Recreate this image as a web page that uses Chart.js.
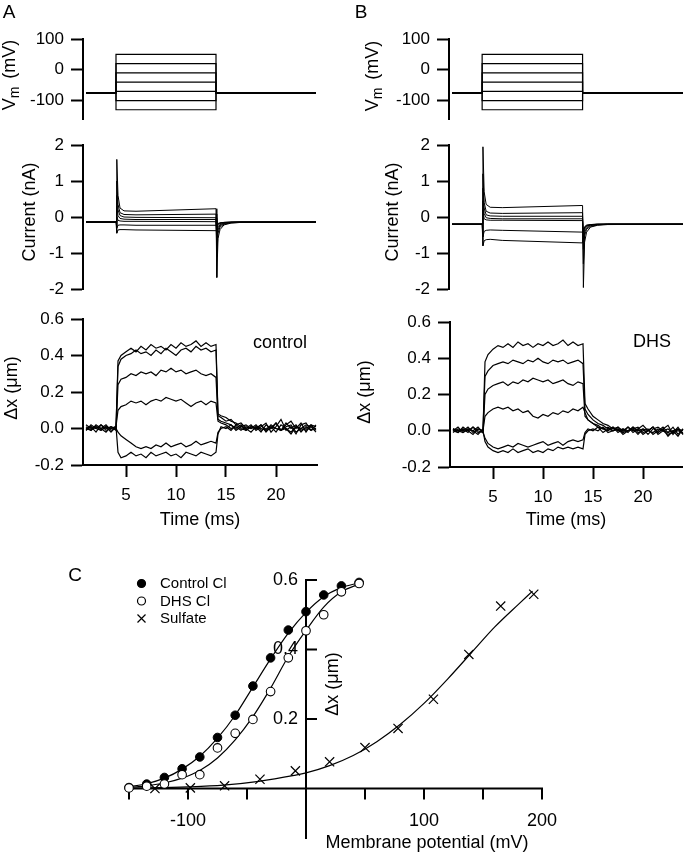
<!DOCTYPE html>
<html>
<head>
<meta charset="utf-8">
<title>Voltage-evoked currents and displacements</title>
<script src="https://cdn.jsdelivr.net/npm/chart.js@4.4.1/dist/chart.umd.min.js"></script>
<style>
  html, body { margin: 0; padding: 0; background: #fff; }
  body { width: 684px; height: 853px; position: relative; overflow: hidden; }
  canvas { position: absolute; }
</style>
</head>
<body>
<canvas id="vmA" width="342" height="137" style="left:0;top:0"></canvas>
<canvas id="curA" width="342" height="180" style="left:0;top:127px"></canvas>
<canvas id="dxA" width="342" height="240" style="left:0;top:300px"></canvas>
<canvas id="vmB" width="342" height="137" style="left:342px;top:0"></canvas>
<canvas id="curB" width="342" height="180" style="left:342px;top:127px"></canvas>
<canvas id="dxB" width="342" height="240" style="left:342px;top:300px"></canvas>
<canvas id="panelC" width="624" height="293" style="left:60px;top:560px"></canvas>
<script>
const FONT = "'Liberation Sans', Arial, Helvetica, sans-serif";

// ---- command voltage (A and B top) ----
const vmTime = [1, 4, 4, 14, 14, 24];
const vmHold = -75;
const vmLevels = [50, 20, -10, -40, -70, -100, -130];
const vmTicks = [-100, 0, 100];

// ---- membrane current (nA) ----
const curTime = [1, 4, 4.08, 4.2, 4.4, 4.8, 6, 14, 14.08, 14.2, 14.4, 14.8, 15.5, 16.5, 24];
const curTicks = [-2, -1, 0, 1, 2];
const curA1 = [-0.14, -0.14, 1.6, 0.6, 0.25, 0.17, 0.16, 0.23, -1.68, -0.6, -0.35, -0.22, -0.17, -0.15, -0.14];
const curA2 = [-0.14, -0.14, 1.0, 0.35, 0.12, 0.07, 0.06, 0.08, -1.1, -0.45, -0.28, -0.2, -0.16, -0.15, -0.14];
const curA3 = [-0.14, -0.14, 0.6, 0.2, 0.04, 0.0, -0.01, -0.02, -0.8, -0.36, -0.24, -0.18, -0.15, -0.14, -0.14];
const curA4 = [-0.14, -0.14, 0.3, 0.04, -0.04, -0.06, -0.07, -0.07, -0.55, -0.3, -0.21, -0.17, -0.15, -0.14, -0.14];
const curA5 = [-0.14, -0.14, 0.0, -0.09, -0.11, -0.12, -0.12, -0.13, -0.35, -0.24, -0.18, -0.16, -0.15, -0.14, -0.14];
const curA6 = [-0.14, -0.14, -0.3, -0.23, -0.22, -0.22, -0.23, -0.23, -0.28, -0.2, -0.17, -0.15, -0.14, -0.14, -0.14];
const curA7 = [-0.14, -0.14, -0.45, -0.36, -0.35, -0.35, -0.36, -0.38, -0.22, -0.18, -0.16, -0.15, -0.14, -0.14, -0.14];
const curB1 = [-0.2, -0.2, 1.95, 0.7, 0.35, 0.27, 0.26, 0.32, -1.96, -0.7, -0.42, -0.28, -0.23, -0.21, -0.2];
const curB2 = [-0.2, -0.2, 1.2, 0.4, 0.16, 0.11, 0.1, 0.12, -1.3, -0.52, -0.34, -0.26, -0.22, -0.2, -0.2];
const curB3 = [-0.2, -0.2, 0.8, 0.25, 0.06, 0.03, 0.02, 0.02, -0.9, -0.42, -0.3, -0.24, -0.21, -0.2, -0.2];
const curB4 = [-0.2, -0.2, 0.45, 0.1, -0.02, -0.04, -0.05, -0.05, -0.62, -0.34, -0.26, -0.22, -0.21, -0.2, -0.2];
const curB5 = [-0.2, -0.2, 0.2, -0.05, -0.08, -0.09, -0.09, -0.1, -0.42, -0.28, -0.23, -0.21, -0.2, -0.2, -0.2];
const curB6 = [-0.2, -0.2, -0.55, -0.4, -0.37, -0.36, -0.37, -0.42, -0.34, -0.27, -0.23, -0.21, -0.2, -0.2, -0.2];
const curB7 = [-0.2, -0.2, -0.8, -0.66, -0.63, -0.62, -0.65, -0.72, -0.38, -0.3, -0.25, -0.22, -0.2, -0.2, -0.2];

// ---- displacement (um) ----
const dxTime = [1, 1.5, 2, 2.5, 3, 3.5, 4, 4.2, 4.5, 5, 5.5, 6, 6.5, 7, 7.5, 8, 8.5, 9, 9.5, 10, 10.5, 11, 11.5, 12, 12.5, 13, 13.5, 14,
  14.2, 14.5, 15, 15.5, 16, 16.5, 17, 17.5, 18, 18.5, 19, 19.5, 20, 20.5, 21, 21.5, 22, 22.5, 23, 23.5, 24];
const dxTicks = [-0.2, 0, 0.2, 0.4, 0.6];
const timeTicks = [5, 10, 15, 20];

const dxA1 = [0.01, -0.01, 0.02, 0.0, -0.02, 0.01, 0.0,
  0.37, 0.40, 0.42, 0.44, 0.42, 0.45, 0.43, 0.46, 0.44, 0.45, 0.43, 0.46, 0.44, 0.47, 0.45, 0.46, 0.48, 0.45, 0.47, 0.45, 0.46,
  0.08, 0.07, 0.06, 0.04, 0.03, 0.01, 0.02, 0.0, 0.01, -0.02, 0.02, 0.0, 0.03, -0.01, 0.02, 0.04, 0.0, 0.03, -0.02, 0.02, 0.01];
const dxA2 = [-0.01, 0.02, 0.0, -0.01, 0.01, -0.02, 0.01,
  0.34, 0.38, 0.40, 0.41, 0.43, 0.41, 0.42, 0.40, 0.43, 0.41, 0.44, 0.42, 0.40, 0.43, 0.44, 0.42, 0.45, 0.43, 0.44, 0.42, 0.43,
  0.07, 0.06, 0.04, 0.05, 0.02, 0.03, 0.0, 0.02, -0.01, 0.01, 0.03, -0.02, 0.01, 0.05, -0.01, 0.01, -0.03, 0.02, 0.03, -0.01, 0.0];
const dxA3 = [0.0, 0.01, -0.02, 0.02, 0.0, 0.01, -0.01,
  0.24, 0.27, 0.28, 0.30, 0.29, 0.31, 0.30, 0.31, 0.29, 0.32, 0.31, 0.33, 0.31, 0.32, 0.30, 0.31, 0.32, 0.30, 0.29, 0.30, 0.28,
  0.05, 0.04, 0.03, 0.02, 0.0, 0.02, -0.01, 0.01, 0.0, 0.02, -0.02, 0.01, 0.0, -0.01, 0.03, 0.0, 0.02, -0.02, 0.01, -0.01, 0.02];
const dxA4 = [0.02, 0.0, 0.01, -0.01, 0.01, 0.0, 0.01,
  0.10, 0.12, 0.13, 0.15, 0.14, 0.15, 0.13, 0.15, 0.16, 0.15, 0.17, 0.16, 0.15, 0.16, 0.14, 0.12, 0.14, 0.15, 0.13, 0.15, 0.14,
  0.04, 0.03, 0.02, 0.0, 0.01, -0.01, 0.01, 0.0, 0.02, -0.01, 0.0, 0.01, -0.02, 0.02, 0.0, -0.03, 0.01, 0.0, 0.02, 0.01, -0.02];
const dxA5 = [0.0, -0.01, 0.01, 0.0, 0.02, -0.01, 0.0,
  -0.02, -0.04, -0.06, -0.08, -0.10, -0.11, -0.10, -0.11, -0.09, -0.10, -0.08, -0.10, -0.09, -0.08, -0.10, -0.09, -0.07, -0.09, -0.08, -0.07, -0.08,
  -0.02, 0.0, 0.01, -0.01, 0.02, 0.0, -0.01, 0.01, 0.0, 0.02, -0.01, 0.0, 0.03, -0.01, 0.0, -0.02, 0.01, -0.01, 0.0, 0.02, -0.01];
const dxA6 = [-0.01, 0.01, 0.0, 0.02, -0.01, 0.0, 0.01,
  -0.13, -0.16, -0.15, -0.13, -0.15, -0.14, -0.16, -0.13, -0.15, -0.14, -0.13, -0.15, -0.14, -0.16, -0.13, -0.14, -0.15, -0.13, -0.14, -0.15, -0.13,
  -0.03, 0.01, 0.0, 0.02, -0.01, 0.01, 0.0, -0.02, 0.01, 0.0, -0.01, 0.02, 0.0, -0.01, 0.01, 0.02, -0.02, 0.0, -0.01, 0.01, 0.0];

const dxB1 = [0.01, -0.01, 0.02, 0.0, -0.02, 0.01, 0.0,
  0.38, 0.42, 0.45, 0.47, 0.46, 0.48, 0.46, 0.49, 0.47, 0.48, 0.46, 0.48, 0.47, 0.49, 0.47, 0.48, 0.50, 0.47, 0.49, 0.47, 0.48,
  0.15, 0.12, 0.08, 0.06, 0.04, 0.03, 0.01, 0.02, 0.0, 0.02, -0.01, 0.01, 0.03, 0.0, 0.02, -0.01, 0.01, 0.03, -0.02, 0.01, 0.0];
const dxB2 = [0.0, 0.02, -0.01, 0.01, 0.0, -0.02, 0.01,
  0.30, 0.33, 0.36, 0.37, 0.38, 0.37, 0.39, 0.38, 0.37, 0.39, 0.38, 0.40, 0.38, 0.37, 0.39, 0.38, 0.39, 0.37, 0.38, 0.39, 0.37,
  0.12, 0.09, 0.06, 0.04, 0.03, 0.01, 0.02, 0.0, 0.01, -0.01, 0.02, 0.0, 0.01, -0.02, 0.01, 0.02, 0.0, -0.01, 0.02, -0.02, 0.01];
const dxB3 = [0.01, 0.0, 0.01, -0.01, 0.02, 0.0, -0.01,
  0.20, 0.23, 0.25, 0.26, 0.27, 0.25, 0.27, 0.26, 0.28, 0.27, 0.29, 0.28, 0.27, 0.28, 0.26, 0.27, 0.28, 0.26, 0.25, 0.27, 0.26,
  0.08, 0.06, 0.04, 0.03, 0.01, 0.02, 0.0, 0.01, -0.01, 0.02, 0.0, 0.01, -0.02, 0.0, 0.02, -0.01, 0.01, -0.03, 0.0, 0.01, -0.02];
const dxB4 = [-0.01, 0.01, 0.0, 0.02, -0.01, 0.01, 0.0,
  0.08, 0.10, 0.12, 0.13, 0.12, 0.13, 0.11, 0.12, 0.10, 0.11, 0.08, 0.07, 0.09, 0.08, 0.10, 0.09, 0.11, 0.10, 0.12, 0.11, 0.13,
  0.10, 0.06, 0.04, 0.02, 0.01, 0.0, 0.02, -0.01, 0.01, 0.0, 0.02, -0.01, 0.0, 0.01, -0.02, 0.0, 0.02, -0.01, 0.0, -0.03, 0.01];
const dxB5 = [0.0, -0.01, 0.01, 0.0, 0.02, -0.01, 0.0,
  -0.06, -0.09, -0.11, -0.12, -0.11, -0.12, -0.10, -0.12, -0.11, -0.10, -0.12, -0.11, -0.12, -0.10, -0.11, -0.09, -0.10, -0.09, -0.10, -0.09, -0.10,
  -0.02, 0.0, 0.01, 0.0, 0.02, -0.01, 0.0, 0.01, -0.02, 0.0, 0.01, 0.02, -0.01, 0.0, 0.02, -0.02, 0.0, 0.01, -0.01, 0.02, -0.02];
const dxB6 = [0.01, 0.0, -0.01, 0.01, 0.0, 0.02, -0.01,
  -0.04, -0.07, -0.09, -0.10, -0.09, -0.08, -0.09, -0.07, -0.08, -0.09, -0.08, -0.07, -0.06, -0.08, -0.07, -0.06, -0.08, -0.06, -0.05, -0.06, -0.05,
  -0.01, 0.01, 0.0, 0.02, -0.01, 0.01, 0.0, 0.02, -0.01, 0.0, 0.01, -0.02, 0.01, 0.0, -0.01, 0.01, 0.0, -0.02, -0.01, 0.0, -0.01];

// ---- panel C: steady-state displacement vs membrane potential ----
const ctrlV = [-150, -135, -120, -105, -90, -75, -60, -45, -30, -15, 0, 15, 30, 45];
const ctrlDx = [0.003, 0.013, 0.032, 0.057, 0.091, 0.147, 0.211, 0.295, 0.376, 0.456, 0.509, 0.557, 0.583, 0.593];
const dhsV = [-150, -135, -120, -105, -90, -75, -60, -45, -30, -15, 0, 15, 30, 45];
const dhsDx = [0.002, 0.007, 0.013, 0.04, 0.04, 0.117, 0.159, 0.199, 0.279, 0.376, 0.454, 0.5, 0.566, 0.59];
const sulfV = [-128, -98, -69, -39, -9, 20, 50, 78, 108, 138, 165, 193];
const sulfDx = [0.0, 0.002, 0.008, 0.027, 0.051, 0.077, 0.118, 0.173, 0.257, 0.386, 0.525, 0.559];

const ctrlFitV = [-150, -135, -120, -105, -90, -75, -60, -45, -30, -15, 0, 15, 30, 45];
const ctrlFitDx = [0.005, 0.014, 0.03, 0.056, 0.093, 0.145, 0.211, 0.292, 0.373, 0.447, 0.507, 0.552, 0.578, 0.592];
const dhsFitV = [-150, -135, -120, -105, -90, -75, -60, -45, -30, -15, 0, 15, 30, 45];
const dhsFitDx = [0.003, 0.008, 0.016, 0.03, 0.052, 0.088, 0.14, 0.207, 0.289, 0.38, 0.455, 0.522, 0.566, 0.588];
const sulfFitV = [-150, -100, -70, -40, -10, 0, 20, 40, 60, 80, 100, 120, 140, 160, 180, 192];
const sulfFitDx = [0.001, 0.005, 0.01, 0.021, 0.038, 0.045, 0.066, 0.095, 0.135, 0.185, 0.245, 0.315, 0.39, 0.465, 0.53, 0.568];

const cTicksX = [-150, -100, -50, 50, 100, 150, 200];
const cLabelsX = [-100, 100, 200];
const cTicksY = [0.2, 0.4, 0.6];

Chart.defaults.font.family = FONT;
Chart.defaults.color = '#000';

function xy(xs, ys) {
  return xs.map((x, i) => ({ x: x, y: ys[i] }));
}

function traces(xs, series, width) {
  return series.map(ys => ({
    data: xy(xs, ys), borderColor: '#000', borderWidth: width,
    pointRadius: 0, tension: 0, fill: false, clip: false
  }));
}

// draws free text (titles, panel letters); items are given in page pixels
function textPlugin(origin, items) {
  return {
    id: 'panelText',
    afterDraw(chart) {
      const ctx = chart.ctx;
      items.forEach(it => {
        const segs = it.segs || [{ t: it.text, size: it.size || 18 }];
        ctx.save();
        ctx.fillStyle = '#000';
        ctx.textAlign = 'left';
        ctx.textBaseline = 'alphabetic';
        ctx.translate(it.x - origin[0], it.y - origin[1]);
        if (it.rotate) ctx.rotate(-Math.PI / 2);
        const widths = segs.map(s => {
          ctx.font = s.size + 'px ' + FONT;
          return ctx.measureText(s.t).width + (s.gap || 0);
        });
        let x = -widths.reduce((a, b) => a + b, 0) / 2;
        segs.forEach((s, i) => {
          ctx.font = s.size + 'px ' + FONT;
          ctx.fillText(s.t, x + (s.gap || 0), s.dy || 0);
          x += widths[i];
        });
        ctx.restore();
      });
    }
  };
}

const VM_TITLE = [{ t: 'V', size: 18 }, { t: 'm', size: 14, dy: 4 }, { t: ' (mV)', size: 18, gap: 3 }];

function yAxis(min, max, ticks, width, digits) {
  return {
    type: 'linear', min: min, max: max,
    afterBuildTicks: s => { s.ticks = ticks.map(v => ({ value: v })); },
    afterFit: s => { s.width = width; },
    border: { display: true, color: '#000', width: 2 },
    grid: { drawOnChartArea: false, drawTicks: true, tickLength: 12, tickWidth: 2, tickColor: '#000' },
    ticks: { color: '#000', padding: 7, font: { size: 17 }, callback: v => v.toFixed(digits) }
  };
}

function xHidden(min, max) {
  return { type: 'linear', min: min, max: max, display: false };
}

function xTime(min, max, height) {
  return {
    type: 'linear', min: min, max: max,
    afterBuildTicks: s => { s.ticks = timeTicks.map(v => ({ value: v })); },
    afterFit: s => { s.height = height; },
    border: { display: true, color: '#000', width: 2 },
    grid: { drawOnChartArea: false, drawTicks: true, tickLength: 12, tickWidth: 2, tickColor: '#000' },
    ticks: { color: '#000', padding: 8, font: { size: 17 }, callback: v => String(v) },
    title: { display: true, text: 'Time (ms)', color: '#000', font: { size: 18 }, padding: { top: 0, bottom: 9 } }
  };
}

function traceChart(id, origin, o) {
  return new Chart(document.getElementById(id), {
    type: 'line',
    data: { datasets: o.datasets },
    options: {
      responsive: false, animation: false, events: [],
      layout: { padding: o.padding },
      plugins: { legend: { display: false }, tooltip: { enabled: false } },
      scales: { x: o.x, y: o.y }
    },
    plugins: [textPlugin(origin, o.texts)]
  });
}

const vmSeries = vmLevels.map(v => [vmHold, vmHold, v, v, vmHold, vmHold]);

// ----- column A -----
traceChart('vmA', [0, 0], {
  datasets: traces(vmTime, vmSeries, 1.2),
  padding: { left: 0, right: 25, top: 39, bottom: 18 },
  x: xHidden(0.7, 24.1),
  y: yAxis(-160, 100, vmTicks, 83, 0),
  texts: [{ text: 'A', size: 19, x: 9, y: 18 }, { segs: VM_TITLE, x: 15, y: 75, rotate: true }]
});
traceChart('curA', [0, 127], {
  datasets: traces(curTime, [curA1, curA2, curA3, curA4, curA5, curA6, curA7], 1),
  padding: { left: 0, right: 25, top: 18, bottom: 18 },
  x: xHidden(0.7, 24.1),
  y: yAxis(-2, 2, curTicks, 83, 0),
  texts: [{ text: 'Current (nA)', x: 34.5, y: 212, rotate: true }]
});
traceChart('dxA', [0, 300], {
  datasets: traces(dxTime, [dxA1, dxA2, dxA3, dxA4, dxA5, dxA6], 1.2),
  padding: { left: 0, right: 25, top: 19, bottom: 0 },
  x: xTime(0.7, 24.1, 75),
  y: yAxis(-0.2, 0.6, dxTicks, 83, 1),
  texts: [{ text: 'Δx (μm)', x: 17, y: 388, rotate: true }, { text: 'control', x: 280, y: 348 }]
});

// ----- column B -----
traceChart('vmB', [342, 0], {
  datasets: traces(vmTime, vmSeries, 1.2),
  padding: { left: 0, right: 2, top: 39, bottom: 18 },
  x: xHidden(0.7, 23.9),
  y: yAxis(-160, 100, vmTicks, 107, 0),
  texts: [{ text: 'B', size: 19, x: 361, y: 18 }, { segs: VM_TITLE, x: 378, y: 76, rotate: true }]
});
traceChart('curB', [342, 127], {
  datasets: traces(curTime, [curB1, curB2, curB3, curB4, curB5, curB6, curB7], 1),
  padding: { left: 0, right: 2, top: 18, bottom: 18 },
  x: xHidden(0.7, 23.9),
  y: yAxis(-2, 2, curTicks, 107, 0),
  texts: [{ text: 'Current (nA)', x: 398, y: 212, rotate: true }]
});
traceChart('dxB', [342, 300], {
  datasets: traces(dxTime, [dxB1, dxB2, dxB3, dxB4, dxB5, dxB6], 1.2),
  padding: { left: 0, right: 2, top: 22, bottom: 0 },
  x: xTime(0.7, 23.9, 73),
  y: yAxis(-0.2, 0.6, dxTicks, 108, 1),
  texts: [{ text: 'Δx (μm)', x: 370, y: 392, rotate: true }, { text: 'DHS', x: 652, y: 347 }]
});

// ----- panel C -----
// axes cross at the origin, so they are drawn here from the chart's own scales
const crossAxes = {
  id: 'crossAxes',
  beforeDatasetsDraw(chart) {
    const ctx = chart.ctx;
    const x = chart.scales.x, y = chart.scales.y;
    const x0 = x.getPixelForValue(0), y0 = y.getPixelForValue(0);
    ctx.save();
    ctx.strokeStyle = '#000';
    ctx.fillStyle = '#000';
    ctx.lineWidth = 2;
    ctx.beginPath();
    ctx.moveTo(x.left, y0); ctx.lineTo(x.right + 1, y0);
    ctx.moveTo(x0, y.top - 1); ctx.lineTo(x0, y.bottom);
    cTicksX.forEach(v => { const px = x.getPixelForValue(v); ctx.moveTo(px, y0); ctx.lineTo(px, y0 + 11); });
    cTicksY.forEach(v => { const py = y.getPixelForValue(v); ctx.moveTo(x0, py); ctx.lineTo(x0 + 11, py); });
    ctx.stroke();
    ctx.font = '18px ' + FONT;
    ctx.textAlign = 'center';
    ctx.textBaseline = 'middle';
    cLabelsX.forEach(v => ctx.fillText(String(v), x.getPixelForValue(v), y0 + 32));
    ctx.textAlign = 'right';
    cTicksY.forEach(v => ctx.fillText(v.toFixed(1), x0 - 8, y.getPixelForValue(v)));
    ctx.restore();
  }
};

const legendC = {
  id: 'legendC',
  afterDraw(chart) {
    const ctx = chart.ctx;
    const items = chart.data.datasets.filter(d => d.legend);
    ctx.save();
    ctx.font = '15px ' + FONT;
    ctx.textBaseline = 'middle';
    ctx.textAlign = 'left';
    items.forEach((d, i) => {
      const mx = 81.5, my = 23.5 + i * 17.5;
      ctx.strokeStyle = '#000';
      ctx.lineWidth = 1.2;
      ctx.fillStyle = d.backgroundColor;
      if (d.pointStyle === 'crossRot') {
        ctx.beginPath();
        ctx.moveTo(mx - 4, my - 4); ctx.lineTo(mx + 4, my + 4);
        ctx.moveTo(mx - 4, my + 4); ctx.lineTo(mx + 4, my - 4);
        ctx.stroke();
      } else {
        ctx.beginPath();
        ctx.arc(mx, my, 4, 0, Math.PI * 2);
        ctx.fill();
        ctx.stroke();
      }
      ctx.fillStyle = '#000';
      ctx.fillText(d.label, 100, my + 0.5);
    });
    ctx.restore();
  }
};

function fitLine(xs, ys) {
  return {
    type: 'line', data: xy(xs, ys), borderColor: '#000', borderWidth: 1.2,
    pointRadius: 0, cubicInterpolationMode: 'monotone', fill: false, clip: false, order: 10
  };
}

new Chart(document.getElementById('panelC'), {
  type: 'scatter',
  data: {
    datasets: [
      { label: 'Control Cl', legend: true, data: xy(ctrlV, ctrlDx), pointStyle: 'circle', pointRadius: 4.3,
        backgroundColor: '#000', borderColor: '#000', borderWidth: 1, clip: false, order: 2 },
      { label: 'DHS Cl', legend: true, data: xy(dhsV, dhsDx), pointStyle: 'circle', pointRadius: 4.3,
        backgroundColor: '#fff', borderColor: '#000', borderWidth: 1.1, clip: false, order: 1 },
      { label: 'Sulfate', legend: true, data: xy(sulfV, sulfDx), pointStyle: 'crossRot', pointRadius: 6.5,
        backgroundColor: '#000', borderColor: '#000', borderWidth: 1.2, clip: false, order: 0 },
      fitLine(ctrlFitV, ctrlFitDx),
      fitLine(dhsFitV, dhsFitDx),
      fitLine(sulfFitV, sulfFitDx)
    ]
  },
  options: {
    responsive: false, animation: false, events: [],
    layout: { padding: { left: 69, right: 142, top: 20, bottom: 14 } },
    plugins: { legend: { display: false }, tooltip: { enabled: false } },
    scales: {
      x: { type: 'linear', min: -150, max: 200, display: false },
      y: { type: 'linear', min: -0.145, max: 0.6, display: false }
    }
  },
  plugins: [crossAxes, legendC, textPlugin([60, 560], [
    { text: 'C', size: 19, x: 75, y: 581 },
    { text: 'Membrane potential (mV)', x: 427, y: 848 },
    { text: 'Δx (μm)', x: 338, y: 684, rotate: true }
  ])]
});
</script>
</body>
</html>
